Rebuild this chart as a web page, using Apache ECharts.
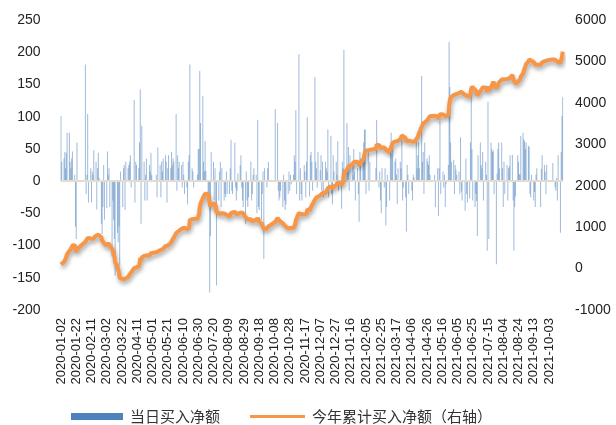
<!DOCTYPE html>
<html><head><meta charset="utf-8">
<script src="https://cdn.jsdelivr.net/npm/echarts@6/dist/echarts.min.js"></script>
<style>html,body{margin:0;padding:0;background:#fff}#c{width:616px;height:425px}</style>
</head><body><div id="c"></div>
<script>
// ---- categories: calendar days shown on the date axis ----
const firstDay = [2020, 1, 2];
const lastDay = [2021, 10, 21];
// weekdays on which the market was closed
const closedWeekdays = ['2020-01-24','2020-01-27','2020-01-28','2020-01-29','2020-01-30','2020-01-31',
  '2020-04-06','2020-05-01','2020-05-04','2020-05-05','2020-06-25','2020-06-26',
  '2020-10-01','2020-10-02','2020-10-05','2020-10-06','2020-10-07','2020-10-08',
  '2021-01-01','2021-02-11','2021-02-12','2021-02-15','2021-02-16','2021-02-17','2021-04-05',
  '2021-05-03','2021-05-04','2021-05-05','2021-06-14','2021-09-20','2021-09-21',
  '2021-10-01','2021-10-04','2021-10-05','2021-10-06','2021-10-07'];

// ---- series values, one per trading day ----
const dailyNet = [
 /*2020-01*/ 101,30,35,45,20,44,75,75,30,20,35,46,10,-71,-90,60,
 /*2020-02*/ 181,-20,10,104,-33,20,-33,15,10,48,30,-44,20,44,5,-66,-82,-40,25,-60,
 /*2020-03*/ -42,46,10,20,-40,-117,-30,-60,-90,-147,-80,-95,-70,-130,15,-40,20,25,-45,30,20,25,
 /*2020-04*/ 30,40,-10,126,-33,30,25,20,60,142,-66,86,30,-30,10,35,-30,25,15,44,10,
 /*2020-05*/ 10,-25,52,25,-25,30,15,35,40,30,-33,20,40,20,45,25,35,30,
 /*2020-06*/ 104,-15,40,20,30,25,-10,30,10,-20,-10,-36,30,40,181,20,15,-10,10,50,
 /*2020-07*/ 50,171,90,132,30,15,62,16,-20,-40,-173,-85,45,30,-30,20,-45,-162,-30,15,30,-40,20,
 /*2020-08*/ -30,-20,-25,15,-20,-20,20,64,-15,-20,60,-10,-30,-15,12,25,40,-10,-30,-40,-66,
 /*2020-09*/ 15,-30,-40,-25,30,-30,-20,10,20,10,-50,95,-40,-45,-60,-20,15,-121,20,-10,20,30,
 /*2020-10*/ 112,90,-15,-30,-25,-15,-40,10,-30,-45,-36,-20,15,-15,10,-5,
 /*2020-11*/ 10,40,30,110,-20,197,-30,20,-20,-30,25,15,-25,30,99,-24,40,45,30,-15,161,
 /*2020-12*/ 30,20,-10,45,17,40,-15,30,-25,30,20,15,80,-25,70,-20,-36,40,15,30,10,62,-15,
 /*2021-01*/ -43,30,20,204,15,90,20,53,-15,40,25,10,50,15,-30,20,-20,-63,45,35,
 /*2021-02*/ 40,60,80,80,-20,45,-15,30,20,95,-10,15,-30,-50,20,
 /*2021-03*/ -10,20,-69,-40,10,-30,45,75,40,60,30,35,10,-36,20,30,20,70,-30,-10,-25,-78,25,
 /*2021-04*/ 10,-20,-15,-30,10,6,63,20,40,60,20,163,30,45,-20,60,35,30,25,40,10,
 /*2021-05*/ 10,-40,20,-54,20,93,-20,15,-10,10,-40,-5,25,216,146,60,30,33,
 /*2021-06*/ -20,25,18,10,15,-20,68,-16,-30,-46,35,-20,-33,-27,60,132,50,-30,-40,-20,-31,
 /*2021-07*/ -85,40,60,25,20,45,-30,30,10,-108,123,-90,60,50,45,47,-20,-129,12,50,60,20,
 /*2021-08*/ 60,20,-40,30,-20,25,-30,20,23,40,41,-30,-108,-40,-24,40,30,11,10,70,75,65,
 /*2021-09*/ 62,50,60,55,53,-20,-25,10,-30,-17,-40,10,20,-40,19,40,25,15,-20,25,
 /*2021-10*/ 28,-10,-15,5,-30,40,-80,45,101,130
];
const cumNet = [
 /*2020-01*/ 101,131,166,211,231,275,350,425,455,475,510,556,566,495,405,465,
 /*2020-02*/ 646,626,636,740,707,727,694,709,719,767,797,753,773,817,822,756,674,634,659,599,
 /*2020-03*/ 557,603,613,633,593,476,446,386,296,149,69,-26,-96,-226,-211,-251,-231,-206,-251,-221,-201,-176,
 /*2020-04*/ -146,-106,-116,10,-23,7,32,52,112,254,188,274,304,274,284,319,289,314,329,373,383,
 /*2020-05*/ 393,368,420,445,420,450,465,500,540,570,537,557,597,617,662,687,722,752,
 /*2020-06*/ 856,841,881,901,931,956,946,976,986,966,956,920,950,990,1171,1191,1206,1196,1206,1256,
 /*2020-07*/ 1306,1477,1567,1699,1729,1744,1806,1822,1802,1762,1589,1504,1549,1579,1549,1569,1524,1362,1332,1347,1377,1337,1357,
 /*2020-08*/ 1327,1307,1282,1297,1277,1257,1277,1341,1326,1306,1366,1356,1326,1311,1323,1348,1388,1378,1348,1308,1242,
 /*2020-09*/ 1257,1227,1187,1162,1192,1162,1142,1152,1172,1182,1132,1227,1187,1142,1082,1062,1077,956,976,966,986,1016,
 /*2020-10*/ 1128,1218,1203,1173,1148,1133,1093,1103,1073,1028,992,972,987,972,982,977,
 /*2020-11*/ 987,1027,1057,1167,1147,1344,1314,1334,1314,1284,1309,1324,1299,1329,1428,1404,1444,1489,1519,1504,1665,
 /*2020-12*/ 1695,1715,1705,1750,1767,1807,1792,1822,1797,1827,1847,1862,1942,1917,1987,1967,1931,1971,1986,2016,2026,2088,2073,
 /*2021-01*/ 2030,2060,2080,2284,2299,2389,2409,2462,2447,2487,2512,2522,2572,2587,2557,2577,2557,2494,2539,2574,
 /*2021-02*/ 2614,2674,2754,2834,2814,2859,2844,2874,2894,2989,2979,2994,2964,2914,2934,
 /*2021-03*/ 2924,2944,2875,2835,2845,2815,2860,2935,2975,3035,3065,3100,3110,3074,3094,3124,3144,3214,3184,3174,3149,3071,3096,
 /*2021-04*/ 3106,3086,3071,3041,3051,3057,3120,3140,3180,3240,3260,3423,3453,3498,3478,3538,3573,3603,3628,3668,3678,
 /*2021-05*/ 3688,3648,3668,3614,3634,3727,3707,3722,3712,3722,3682,3677,3702,3918,4064,4124,4154,4187,
 /*2021-06*/ 4167,4192,4210,4220,4235,4215,4283,4267,4237,4191,4226,4206,4173,4146,4206,4338,4388,4358,4318,4298,4267,
 /*2021-07*/ 4182,4222,4282,4307,4327,4372,4342,4372,4382,4274,4397,4307,4367,4417,4462,4509,4489,4360,4372,4422,4482,4502,
 /*2021-08*/ 4562,4582,4542,4572,4552,4577,4547,4567,4590,4630,4671,4641,4533,4493,4469,4509,4539,4550,4560,4630,4705,4770,
 /*2021-09*/ 4832,4882,4942,4997,5050,5030,5005,5015,4985,4968,4928,4938,4958,4918,4937,4977,5002,5017,4997,5022,
 /*2021-10*/ 5050,5040,5025,5030,5000,5040,4960,5005,5106,5236
];

// ---- tick labels ----
const leftTicks = [-200,-150,-100,-50,0,50,100,150,200,250];
const rightTicks = [-1000,0,1000,2000,3000,4000,5000,6000];
const seriesNames = ['当日买入净额','今年累计买入净额（右轴）'];

// ---- build calendar categories and map trading-day values onto them ----
const categories = [];
const tradingIndex = {};
let k = 0;
for (let t = Date.UTC(firstDay[0], firstDay[1]-1, firstDay[2]); t <= Date.UTC(lastDay[0], lastDay[1]-1, lastDay[2]); t += 86400000) {
  const d = new Date(t);
  const s = d.toISOString().slice(0,10);
  categories.push(s);
  const wd = d.getUTCDay();
  if (wd !== 0 && wd !== 6 && closedWeekdays.indexOf(s) < 0) { tradingIndex[s] = k++; }
}
const barData = categories.map(s => (s in tradingIndex && tradingIndex[s] < dailyNet.length) ? dailyNet[tradingIndex[s]] : null);
const lineData = categories.map(s => (s in tradingIndex && tradingIndex[s] < cumNet.length) ? cumNet[tradingIndex[s]] : null);

const numFont = 'Liberation Sans, Arial, sans-serif';
const legendText = {fontFamily: 'Noto Sans CJK SC', fontSize: 15, color: '#333', padding: [0,0,0,2]};
const chart = echarts.init(document.getElementById('c'), null, {renderer: 'canvas'});
chart.setOption({
  animation: false,
  backgroundColor: '#fff',
  grid: {left: 60.6, top: 20, width: 502.5, height: 290, containLabel: false},
  legend: [
    {left: 66, top: 404, itemWidth: 52, itemHeight: 7, textStyle: legendText,
     data: [{name: seriesNames[0], icon: 'rect', itemStyle: {color: '#4F81BD', opacity: 1}}]},
    {left: 245, top: 404, itemWidth: 55, itemHeight: 3, textStyle: legendText,
     data: [{name: seriesNames[1], icon: 'rect', itemStyle: {color: '#F79646'}}]}
  ],
  xAxis: {
    type: 'category', data: categories, boundaryGap: true,
    axisLine: {show: false}, axisTick: {show: false},
    axisLabel: {interval: 19, rotate: 90, fontSize: 13, color: '#222', fontFamily: numFont, margin: 8}
  },
  yAxis: [
    {type: 'value', min: leftTicks[0], max: leftTicks[leftTicks.length-1], interval: leftTicks[1]-leftTicks[0],
     axisLine: {show: false}, axisTick: {show: false}, splitLine: {show: false},
     axisLabel: {fontSize: 14, color: '#222', fontFamily: numFont, margin: 20, formatter: v => String(v)}},
    {type: 'value', min: rightTicks[0], max: rightTicks[rightTicks.length-1], interval: rightTicks[1]-rightTicks[0],
     axisLine: {show: false}, axisTick: {show: false}, splitLine: {show: false},
     axisLabel: {fontSize: 14, color: '#222', fontFamily: numFont, margin: 12, formatter: v => String(v)}}
  ],
  series: [
    {name: seriesNames[0], type: 'bar', yAxisIndex: 0, data: barData, barWidth: 1,
     itemStyle: {color: 'rgba(79,129,189,0.55)'},
     markLine: {silent: true, symbol: 'none', label: {show: false},
       lineStyle: {color: '#E3DDD0', width: 2, type: 'solid'}, data: [{yAxis: 0}]}},
    {name: seriesNames[1], type: 'line', yAxisIndex: 1, data: lineData, connectNulls: true,
     symbol: 'none', showSymbol: false, z: 5,
     itemStyle: {color: '#F79646'},
     lineStyle: {color: '#F79646', width: 4, shadowColor: 'rgba(0,0,0,0.35)', shadowBlur: 4, shadowOffsetX: 1, shadowOffsetY: 3}}
  ]
});
</script></body></html>
